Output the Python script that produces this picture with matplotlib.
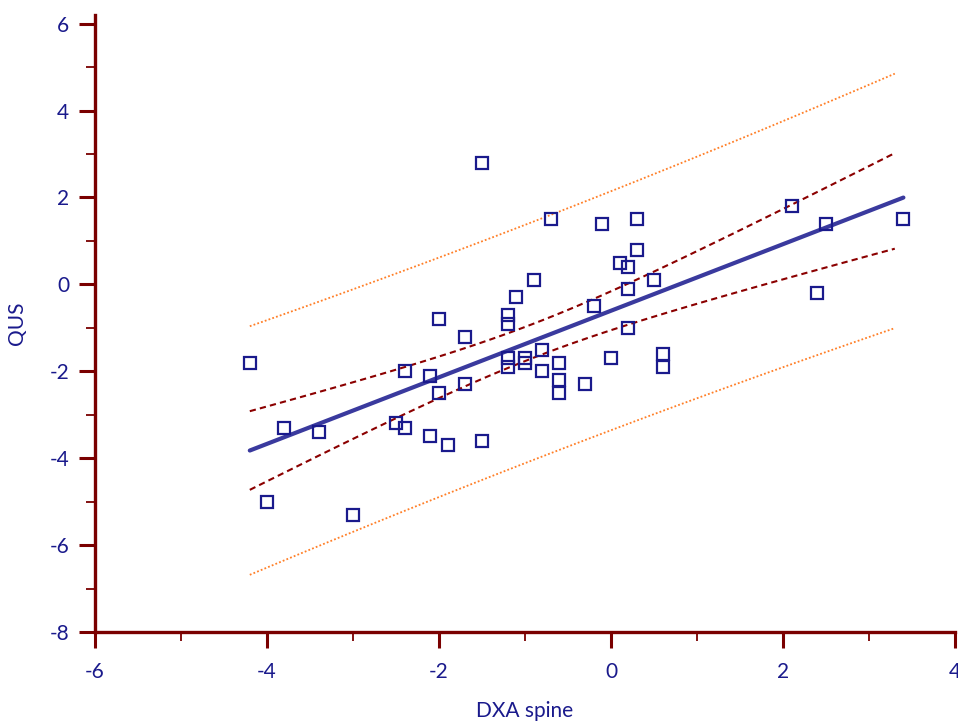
import numpy as np
import matplotlib.pyplot as plt
from matplotlib.ticker import MultipleLocator

# DXA spine vs QUS T-scores
dxa = [-4.2, -3.8, -4.0, -3.4, -3.0, -2.5, -2.4, -2.4, -2.1, -2.0, -2.0, -2.1,
       -1.9, -1.7, -1.7, -1.5, -1.5, -1.2, -1.2, -1.2, -1.2, -1.1, -1.0, -1.0,
       -0.9, -0.8, -0.8, -0.7, -0.6, -0.6, -0.6, -0.3, -0.2, -0.1, 0.0, 0.1,
       0.2, 0.2, 0.2, 0.3, 0.3, 0.5, 0.6, 0.6, 2.1, 2.5, 2.4, 3.4]
qus = [-1.8, -3.3, -5.0, -3.4, -5.3, -3.2, -3.3, -2.0, -2.1, -0.8, -2.5, -3.5,
       -3.7, -1.2, -2.3, 2.8, -3.6, -0.7, -0.9, -1.7, -1.9, -0.3, -1.7, -1.8,
       0.1, -1.5, -2.0, 1.5, -1.8, -2.2, -2.5, -2.3, -0.5, 1.4, -1.7, 0.5,
       0.4, -0.1, -1.0, 1.5, 0.8, 0.1, -1.6, -1.9, 1.8, 1.4, -0.2, 1.5]
band_end = 3.3
t_975 = 2.013  # t(0.975, n-2) for n = 48

x = np.array(dxa)
y = np.array(qus)
n = len(x)
slope, icept = np.polyfit(x, y, 1)
resid = y - (icept + slope * x)
s = np.sqrt(np.sum(resid ** 2) / (n - 2))
xm = x.mean()
sxx = np.sum((x - xm) ** 2)

xl = np.array([x.min(), x.max()])
xb = np.linspace(x.min(), band_end, 60)
yb = icept + slope * xb
ci = t_975 * s * np.sqrt(1.0 / n + (xb - xm) ** 2 / sxx)
pi = t_975 * s * np.sqrt(1 + 1.0 / n + (xb - xm) ** 2 / sxx)

navy = '#1a1a8c'
axcol = '#7a0000'

plt.rcParams['font.family'] = ['Lato', 'DejaVu Sans']
plt.rcParams['axes.unicode_minus'] = False
fig = plt.figure(figsize=(9.58, 7.22), dpi=100)
ax = fig.add_axes([95 / 958, 90 / 722, 860 / 958, 617 / 722])

ax.plot(xb, yb + pi, color='#ff7f27', ls=(0, (1, 1.2)), lw=1.3)
ax.plot(xb, yb - pi, color='#ff7f27', ls=(0, (1, 1.2)), lw=1.3)
ax.plot(xb, yb + ci, color='#8b0000', ls=(0, (3, 2)), lw=1.5)
ax.plot(xb, yb - ci, color='#8b0000', ls=(0, (3, 2)), lw=1.5)
ax.plot(xl, icept + slope * xl, color='#3a3a9e', lw=3, solid_capstyle='round')
ax.plot(x, y, ls='none', marker='s', ms=8.5, mfc='none', mec=navy, mew=1.6, zorder=5)

ax.set_xlim(-6, 4)
ax.set_ylim(-8, 6.2)
ax.xaxis.set_major_locator(MultipleLocator(2))
ax.xaxis.set_minor_locator(MultipleLocator(1))
ax.yaxis.set_major_locator(MultipleLocator(2))
ax.yaxis.set_minor_locator(MultipleLocator(1))
ax.set_yticks([-8, -6, -4, -2, 0, 2, 4, 6])

for side in ['top', 'right']:
	ax.spines[side].set_visible(False)
for side in ['left', 'bottom']:
	ax.spines[side].set_color(axcol)
	ax.spines[side].set_linewidth(2.4)

ax.tick_params(which='major', length=11.5, width=2.2, color=axcol, labelcolor=navy, labelsize=15)
ax.tick_params(which='minor', length=6.5, width=1.3, color=axcol)
ax.tick_params(axis='x', which='major', pad=10)
ax.tick_params(axis='y', which='major', pad=7)

ax.set_xlabel('DXA spine', color=navy, fontsize=15, labelpad=14)
ax.set_ylabel('QUS', color=navy, fontsize=15, labelpad=16)

fig.savefig('out.png', dpi=100)
